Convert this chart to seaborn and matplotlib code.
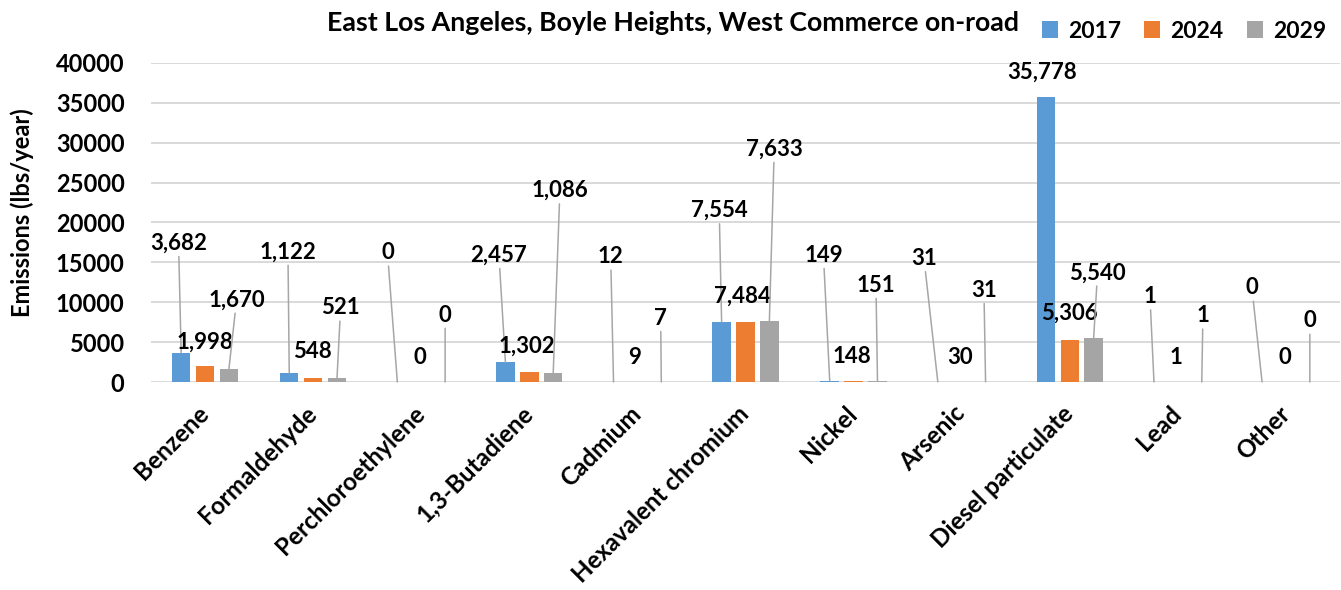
import matplotlib
matplotlib.use("Agg")
import matplotlib.pyplot as plt
import numpy as np
import pandas as pd
import seaborn as sns

# ---- data -------------------------------------------------------------
categories = ["Benzene", "Formaldehyde", "Perchloroethylene", "1,3-Butadiene",
              "Cadmium", "Hexavalent chromium", "Nickel", "Arsenic",
              "Diesel particulate", "Lead", "Other"]
years = ["2017", "2024", "2029"]

emissions_2017 = [3682, 1122, 0, 2457, 12, 7554, 149, 31, 35778, 1, 0]
emissions_2024 = [1998, 548, 0, 1302, 9, 7484, 148, 30, 5306, 1, 0]
emissions_2029 = [1670, 521, 0, 1086, 7, 7633, 151, 31, 5540, 1, 0]

# ---- data-label placement ---------------------------------------------
# horizontal shift from the bar centre (category units) and label height (lbs/year)
label_dx_2017 = [-0.024, -0.012, -0.091, -0.060, -0.026, -0.022, -0.058, -0.128, -0.034, -0.037, -0.094]
label_y_2017 = [17400, 16300, 16200, 15900, 15700, 21500, 15900, 15500, 38800, 10700, 11800]
label_dx_2024 = [-0.005, -0.006, -0.015, -0.022, -0.025, -0.026, -0.015, -0.016, -0.008, -0.018, -0.010]
label_y_2024 = [5000, 3800, 3100, 4500, 3100, 10700, 3200, 3100, 8650, 3100, 3100]
label_dx_2029 = [0.071, 0.033, 0.000, 0.062, -0.006, 0.045, -0.014, -0.015, 0.036, 0.011, 0.000]
label_y_2029 = [10300, 9300, 8400, 24000, 8000, 29200, 12150, 11500, 13700, 8300, 7650]

palette = {"2017": "#5B9BD5", "2024": "#ED7D31", "2029": "#A5A5A5"}
leader_color = "#A6A6A6"
grid_color = "#D9D9D9"

plt.rcParams["font.family"] = ["Lato", "DejaVu Sans"]
plt.rcParams["font.weight"] = "bold"

df = pd.DataFrame({
    "Pollutant": categories * len(years),
    "Year": np.repeat(years, len(categories)),
    "Emissions": emissions_2017 + emissions_2024 + emissions_2029,
})

W, H = 1341, 590
fig = plt.figure(figsize=(W / 100, H / 100), dpi=100)
ax = fig.add_axes([151 / W, 1 - 382 / H, 1189 / W, 319 / H])

sns.barplot(data=df, x="Pollutant", y="Emissions", hue="Year", hue_order=years,
            palette=palette, saturation=1, width=0.663, gap=0.226,
            errorbar=None, ax=ax, zorder=3)

ax.set_ylim(0, 40000)
ax.set_yticks(range(0, 40001, 5000))
ax.set_yticklabels([str(v) for v in range(0, 40001, 5000)])
ax.yaxis.grid(True, color=grid_color, linewidth=1.4, zorder=0)
ax.xaxis.grid(False)
ax.set_axisbelow(True)
for side in ["top", "right", "left", "bottom"]:
    ax.spines[side].set_visible(False)

ax.tick_params(axis="y", length=0, pad=19, labelsize=17)
ax.tick_params(axis="x", length=0, pad=20, labelsize=17.5)
plt.setp(ax.get_xticklabels(), rotation=45, ha="right", va="center",
         rotation_mode="anchor", fontweight="bold")
plt.setp(ax.get_yticklabels(), fontweight="bold")

ax.set_xlabel("")
ax.set_ylabel("Emissions (lbs/year)", fontsize=17, fontweight="bold")
ax.yaxis.set_label_coords(-0.098, 0.53)

# ---- data labels with leader lines ------------------------------------
series = [
    (emissions_2017, label_dx_2017, label_y_2017),
    (emissions_2024, label_dx_2024, label_y_2024),
    (emissions_2029, label_dx_2029, label_y_2029),
]
for container, (values, dxs, lys) in zip(ax.containers, series):
    for bar, value, dx, ly in zip(container.patches, values, dxs, lys):
        bx = bar.get_x() + bar.get_width() / 2
        top = bar.get_height()
        text = f"{value:,}"
        if ly - top > 5000:
            ax.annotate(text, xy=(bx, top), xytext=(bx + dx, ly),
                        ha="center", va="center", fontsize=16, fontweight="bold",
                        arrowprops=dict(arrowstyle="-", color=leader_color, lw=1.1,
                                        shrinkA=0, shrinkB=0),
                        zorder=4)
        else:
            ax.text(bx + dx, ly, text, ha="center", va="center",
                    fontsize=16, fontweight="bold", zorder=4)

# ---- legend and title --------------------------------------------------
handles, labels = ax.get_legend_handles_labels()
ax.get_legend().remove()
fig.legend(handles, labels, loc="center", bbox_to_anchor=(1184 / W, 1 - 31 / H),
           ncol=3, frameon=False, prop=dict(weight="bold", size=16.5),
           handlelength=0.7, handleheight=0.7, handletextpad=0.45,
           columnspacing=1.0)

fig.text(673 / W, 1 - 23 / H, "East Los Angeles, Boyle Heights, West Commerce on-road",
         ha="center", va="center", fontsize=19.3, fontweight="bold")

fig.savefig("out.png", dpi=100)
